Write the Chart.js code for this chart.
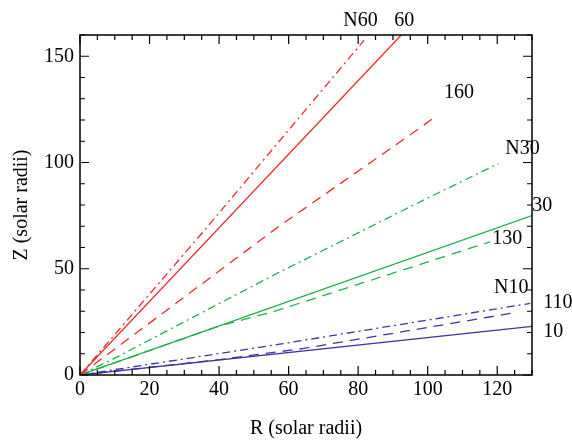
<!DOCTYPE html>
<html>
<head>
<meta charset="utf-8">
<script src="https://cdn.jsdelivr.net/npm/chart.js@4/dist/chart.umd.min.js"></script>
<style>
  html, body { margin: 0; padding: 0; background: #fff; }
  #wrap { width: 572px; height: 441px; }
</style>
</head>
<body>
<div id="wrap"><canvas id="myChart" width="572" height="441"></canvas></div>
<script>
// trajectories, R and Z in solar radii
const r60 = [0, 92.4];
const z60 = [0, 160];
const rN60 = [0, 36, 81.7];
const zN60 = [0, 68.5, 157.5];
const r160 = [0, 57, 94.4, 102.8];
const z160 = [0, 69.7, 112.4, 122.2];

const r30 = [0, 130];
const z30 = [0, 75];
const rN30 = [0, 9, 57, 98.8, 120.4];
const zN30 = [0, 7.1, 48.1, 82.3, 99.5];
const r130 = [0, 40, 55.6, 118];
const z130 = [0, 23, 29.8, 62.7];

const r10 = [0, 130];
const z10 = [0, 22.9];
const rN10 = [0, 57, 129.5];
const zN10 = [0, 14.4, 33.7];
const r110 = [0, 40, 64.3, 125.7];
const z110 = [0, 7.2, 12.5, 29.5];

const xTicks = [0, 20, 40, 60, 80, 100, 120];
const yTicks = [0, 50, 100, 150];

const RED = '#ee2a2a';
const GREEN = '#1eb04a';
const BLUE = '#3a35a0';
const DASH = [10, 7];
const DASHDOT = [8, 4, 2, 4];

function pts(rs, zs) {
  return rs.map((r, i) => ({x: r, y: zs[i]}));
}

function line(label, rs, zs, color, dash) {
  return {
    label: label,
    data: pts(rs, zs),
    borderColor: color,
    borderWidth: 1.3,
    borderDash: dash,
    pointRadius: 0,
    showLine: true,
    fill: false,
    tension: 0
  };
}

// curve labels, anchored in data units (left edge, middle)
const tags = [
  {text: 'N60', x: 75.7, y: 166.9},
  {text: '60', x: 90.4, y: 166.9},
  {text: '160', x: 104.7, y: 132.6},
  {text: 'N30', x: 122.3, y: 106.7},
  {text: '30', x: 130.1, y: 79.5},
  {text: '130', x: 118.6, y: 63.9},
  {text: 'N10', x: 119.1, y: 40.9},
  {text: '110', x: 133.2, y: 33.9},
  {text: '10', x: 133.2, y: 20.2}
];

const FONT = '"Liberation Serif", "Times New Roman", serif';

// box frame + inward ticks on all four sides, and curve labels
const framePlugin = {
  id: 'frame',
  afterDraw(chart) {
    const {ctx, chartArea: a, scales: {x, y}} = chart;
    ctx.save();
    ctx.strokeStyle = '#000';
    ctx.lineWidth = 1.5;
    ctx.strokeRect(a.left, a.top, a.right - a.left, a.bottom - a.top);
    ctx.lineWidth = 1.2;
    ctx.beginPath();
    for (let v = 0; v <= 130; v += 5) {
      const px = x.getPixelForValue(v);
      const len = v % 20 === 0 ? 9 : 5;
      ctx.moveTo(px, a.bottom); ctx.lineTo(px, a.bottom - len);
      ctx.moveTo(px, a.top); ctx.lineTo(px, a.top + len);
    }
    for (let v = 0; v <= 160; v += 10) {
      const py = y.getPixelForValue(v);
      const len = v % 50 === 0 ? 9 : 5;
      ctx.moveTo(a.left, py); ctx.lineTo(a.left + len, py);
      ctx.moveTo(a.right, py); ctx.lineTo(a.right - len, py);
    }
    ctx.stroke();

    ctx.fillStyle = '#000';
    ctx.font = '20px ' + FONT;
    ctx.textAlign = 'left';
    ctx.textBaseline = 'middle';
    tags.forEach(t => {
      ctx.fillText(t.text, x.getPixelForValue(t.x), y.getPixelForValue(t.y));
    });
    ctx.restore();
  }
};

const ctx = document.getElementById('myChart').getContext('2d');

const config = {
  type: 'scatter',
  data: {
    datasets: [
      line('60', r60, z60, RED, []),
      line('N60', rN60, zN60, RED, DASHDOT),
      line('160', r160, z160, RED, DASH),
      line('30', r30, z30, GREEN, []),
      line('N30', rN30, zN30, GREEN, DASHDOT),
      line('130', r130, z130, GREEN, DASH),
      line('10', r10, z10, BLUE, []),
      line('N10', rN10, zN10, BLUE, DASHDOT),
      line('110', r110, z110, BLUE, DASH)
    ]
  },
  options: {
    responsive: false,
    animation: false,
    layout: { padding: { top: 35, right: 40, left: 0, bottom: 0 } },
    plugins: {
      legend: { display: false },
      tooltip: { enabled: false }
    },
    scales: {
      x: {
        type: 'linear',
        min: 0,
        max: 130,
        afterBuildTicks: s => { s.ticks = xTicks.map(v => ({value: v})); },
        afterFit: s => { s.height = 66; },
        grid: { display: false, drawTicks: false },
        border: { display: false },
        ticks: { color: '#000', padding: 3, maxRotation: 0, font: { family: FONT, size: 20 } },
        title: { display: true, text: 'R (solar radii)', color: '#000', padding: 0, font: { family: FONT, size: 20 } }
      },
      y: {
        type: 'linear',
        min: 0,
        max: 160,
        afterBuildTicks: s => { s.ticks = yTicks.map(v => ({value: v})); },
        afterFit: s => { s.width = 80; },
        grid: { display: false, drawTicks: false },
        border: { display: false },
        ticks: { color: '#000', padding: 6, font: { family: FONT, size: 20 } },
        title: { display: true, text: 'Z (solar radii)', color: '#000', padding: { top: 10, bottom: 0 }, font: { family: FONT, size: 20 } }
      }
    }
  },
  plugins: [framePlugin]
};

const myChart = new Chart(ctx, config);
</script>
</body>
</html>
